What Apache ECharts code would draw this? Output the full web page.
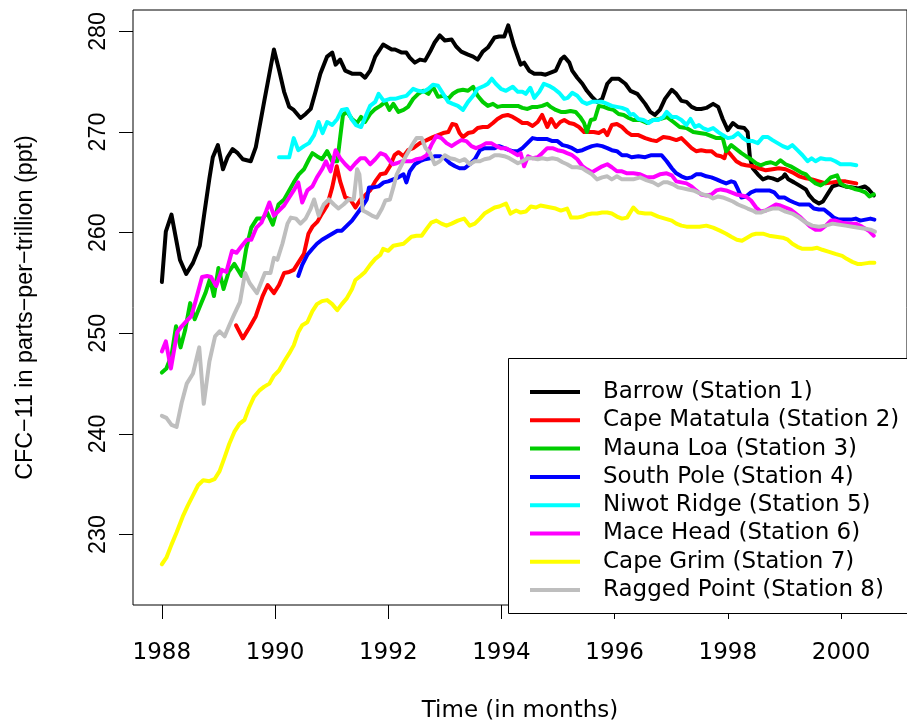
<!DOCTYPE html>
<html>
<head>
<meta charset="utf-8">
<script src="https://cdn.jsdelivr.net/npm/echarts@6/dist/echarts.min.js"></script>
<style>
html,body{margin:0;padding:0;background:#fff;}
#chart{width:907px;height:728px;}
</style>
</head>
<body>
<div id="chart"></div>
<script>
const stationNames = ["Barrow (Station 1)","Cape Matatula (Station 2)","Mauna Loa (Station 3)","South Pole (Station 4)","Niwot Ridge (Station 5)","Mace Head (Station 6)","Cape Grim (Station 7)","Ragged Point (Station 8)"];
const stationColors = ["#000000","#FF0000","#00CD00","#0000FF","#00FFFF","#FF00FF","#FFFF00","#BEBEBE"];
const xTicks = [1988,1990,1992,1994,1996,1998,2000];
const yTicks = [230,240,250,260,270,280];

const barrow = [[1988.00,255.1],[1988.07,260.1],[1988.17,261.8],[1988.32,257.3],[1988.43,255.9],[1988.55,257.0],[1988.67,258.7],[1988.75,261.9],[1988.84,265.4],[1988.90,267.5],[1988.99,268.7],[1989.08,266.3],[1989.16,267.5],[1989.25,268.3],[1989.34,267.9],[1989.43,267.3],[1989.57,267.1],[1989.66,268.5],[1989.81,273.1],[1989.98,278.2],[1990.07,276.2],[1990.16,274.0],[1990.25,272.5],[1990.33,272.2],[1990.45,271.4],[1990.54,271.8],[1990.63,272.3],[1990.72,274.1],[1990.80,275.8],[1990.92,277.5],[1991.01,277.9],[1991.07,276.7],[1991.15,277.2],[1991.24,276.1],[1991.36,275.8],[1991.51,275.8],[1991.59,275.4],[1991.68,276.1],[1991.77,277.5],[1991.91,278.7],[1992.06,278.2],[1992.12,278.2],[1992.24,277.9],[1992.32,277.9],[1992.38,277.4],[1992.47,276.9],[1992.56,277.2],[1992.65,277.1],[1992.74,278.0],[1992.82,278.9],[1992.91,279.6],[1993.00,279.1],[1993.12,279.2],[1993.20,278.5],[1993.29,278.0],[1993.41,277.7],[1993.50,277.5],[1993.58,277.2],[1993.67,278.0],[1993.76,278.4],[1993.88,279.4],[1993.96,279.5],[1994.05,279.5],[1994.12,280.6],[1994.22,278.6],[1994.34,276.7],[1994.40,276.9],[1994.49,276.1],[1994.58,275.8],[1994.70,275.8],[1994.78,275.7],[1994.87,275.9],[1994.96,276.1],[1995.05,277.2],[1995.11,277.5],[1995.20,276.9],[1995.25,276.1],[1995.34,275.4],[1995.43,274.8],[1995.51,274.1],[1995.60,273.5],[1995.69,273.0],[1995.78,273.3],[1995.87,274.8],[1995.95,275.3],[1996.07,275.3],[1996.19,274.8],[1996.28,274.1],[1996.40,273.8],[1996.54,272.8],[1996.63,272.0],[1996.71,271.7],[1996.80,272.2],[1996.89,273.3],[1997.01,274.2],[1997.09,273.8],[1997.18,273.1],[1997.27,273.0],[1997.36,272.5],[1997.44,272.3],[1997.53,272.3],[1997.62,272.4],[1997.74,272.8],[1997.83,272.5],[1997.91,271.3],[1998.00,270.2],[1998.09,270.9],[1998.18,270.5],[1998.29,270.4],[1998.35,270.0],[1998.39,267.5],[1998.44,266.4],[1998.53,265.8],[1998.62,265.3],[1998.71,265.5],[1998.79,265.4],[1998.88,265.2],[1998.97,265.5],[1999.01,265.8],[1999.07,265.3],[1999.17,265.0],[1999.29,264.6],[1999.38,264.3],[1999.44,263.7],[1999.52,263.2],[1999.61,262.9],[1999.68,263.1],[1999.76,263.8],[1999.85,264.6],[1999.96,264.8],[2000.08,264.6],[2000.20,264.5],[2000.31,264.4],[2000.42,264.6],[2000.49,264.3],[2000.58,263.7]];

const capeMatatula = [[1989.31,250.8],[1989.43,249.5],[1989.55,250.6],[1989.66,251.7],[1989.78,253.7],[1989.87,254.8],[1989.98,254.0],[1990.07,254.8],[1990.16,256.0],[1990.25,256.1],[1990.33,256.3],[1990.42,257.1],[1990.51,257.9],[1990.59,259.9],[1990.66,260.6],[1990.75,261.1],[1990.83,261.9],[1990.92,262.7],[1991.01,264.5],[1991.09,266.6],[1991.15,265.1],[1991.24,263.5],[1991.33,263.3],[1991.42,262.5],[1991.51,263.3],[1991.59,263.7],[1991.68,264.2],[1991.77,265.1],[1991.86,265.8],[1991.95,265.9],[1992.03,266.6],[1992.11,267.7],[1992.18,268.0],[1992.27,267.6],[1992.35,268.2],[1992.44,268.4],[1992.56,268.9],[1992.68,269.2],[1992.79,269.5],[1992.88,269.7],[1992.97,269.9],[1993.06,270.0],[1993.13,270.8],[1993.20,270.7],[1993.26,269.9],[1993.32,269.5],[1993.41,269.9],[1993.50,270.0],[1993.58,270.4],[1993.67,270.5],[1993.76,270.5],[1993.85,270.9],[1993.93,271.3],[1994.02,271.6],[1994.11,271.7],[1994.20,271.5],[1994.29,271.2],[1994.37,270.9],[1994.46,270.9],[1994.55,270.6],[1994.64,271.0],[1994.72,271.7],[1994.81,270.5],[1994.88,271.3],[1994.96,270.5],[1995.04,271.0],[1995.11,271.2],[1995.20,270.9],[1995.28,270.8],[1995.37,270.5],[1995.46,270.0],[1995.55,270.0],[1995.63,270.0],[1995.72,269.9],[1995.81,270.2],[1995.87,269.7],[1995.95,270.7],[1996.04,270.8],[1996.13,270.5],[1996.22,270.0],[1996.30,269.7],[1996.42,269.7],[1996.54,269.4],[1996.65,269.2],[1996.74,269.1],[1996.86,269.5],[1996.98,269.4],[1997.09,269.2],[1997.18,269.4],[1997.27,268.9],[1997.36,268.4],[1997.44,268.1],[1997.53,268.2],[1997.62,268.1],[1997.71,268.1],[1997.80,267.7],[1997.88,267.6],[1997.94,267.4],[1997.98,268.2],[1998.06,267.7],[1998.15,267.1],[1998.24,266.8],[1998.32,266.7],[1998.44,266.6],[1998.55,266.4],[1998.67,266.2],[1998.79,266.3],[1998.90,266.4],[1999.02,266.3],[1999.14,266.0],[1999.26,265.6],[1999.38,265.4],[1999.49,265.3],[1999.61,265.1],[1999.73,264.9],[1999.85,265.0],[1999.96,265.1],[2000.08,265.1],[2000.17,265.0],[2000.27,264.9]];

const maunaLoa = [[1988.00,246.1],[1988.08,246.5],[1988.17,247.8],[1988.25,250.7],[1988.33,248.6],[1988.41,250.3],[1988.50,253.0],[1988.58,251.4],[1988.68,252.8],[1988.77,254.0],[1988.85,255.4],[1988.92,253.7],[1989.00,256.5],[1989.09,254.4],[1989.18,256.1],[1989.28,256.9],[1989.41,255.7],[1989.49,258.4],[1989.58,260.5],[1989.68,261.4],[1989.78,261.4],[1989.86,262.0],[1989.96,260.8],[1990.06,262.8],[1990.16,263.3],[1990.25,264.2],[1990.33,265.0],[1990.42,265.8],[1990.51,266.3],[1990.60,267.3],[1990.66,267.9],[1990.74,267.6],[1990.83,267.3],[1990.92,268.1],[1991.01,267.1],[1991.10,267.1],[1991.16,269.9],[1991.20,271.7],[1991.27,272.0],[1991.36,271.3],[1991.45,270.9],[1991.52,271.5],[1991.59,271.0],[1991.68,271.8],[1991.77,272.3],[1991.86,272.6],[1991.95,273.0],[1992.02,272.2],[1992.09,272.8],[1992.18,272.0],[1992.27,272.2],[1992.35,272.5],[1992.44,273.3],[1992.53,273.8],[1992.62,274.1],[1992.71,273.8],[1992.79,274.5],[1992.88,273.5],[1992.97,273.6],[1993.06,273.3],[1993.14,273.8],[1993.23,274.1],[1993.32,274.2],[1993.41,274.1],[1993.50,274.5],[1993.58,273.6],[1993.67,273.0],[1993.76,272.6],[1993.85,272.8],[1993.93,272.5],[1994.02,272.6],[1994.11,272.6],[1994.20,272.6],[1994.29,272.6],[1994.37,272.4],[1994.46,272.3],[1994.55,272.5],[1994.64,272.5],[1994.72,272.6],[1994.81,272.8],[1994.87,272.5],[1994.96,272.2],[1995.05,272.0],[1995.13,272.0],[1995.22,272.1],[1995.31,272.0],[1995.39,271.5],[1995.46,270.9],[1995.51,270.0],[1995.58,271.2],[1995.65,271.3],[1995.72,272.6],[1995.81,272.5],[1995.90,272.3],[1995.98,272.2],[1996.07,271.8],[1996.16,271.7],[1996.25,271.4],[1996.33,271.2],[1996.45,271.2],[1996.57,270.9],[1996.68,271.2],[1996.80,271.3],[1996.92,271.5],[1997.04,271.0],[1997.15,270.5],[1997.27,270.4],[1997.39,270.0],[1997.50,269.9],[1997.62,269.8],[1997.71,269.6],[1997.80,269.4],[1997.91,269.4],[1997.97,268.1],[1998.06,268.7],[1998.15,268.3],[1998.24,267.9],[1998.32,267.6],[1998.41,267.3],[1998.50,266.9],[1998.58,266.7],[1998.67,266.9],[1998.76,267.0],[1998.85,266.8],[1998.93,267.2],[1999.02,266.8],[1999.11,266.6],[1999.20,266.3],[1999.29,266.0],[1999.38,265.8],[1999.46,265.3],[1999.55,264.9],[1999.64,264.7],[1999.73,265.0],[1999.82,265.5],[1999.93,265.7],[1999.99,264.9],[2000.08,264.6],[2000.17,264.5],[2000.26,264.3],[2000.34,264.2],[2000.43,264.0],[2000.50,263.6],[2000.58,263.8]];

const southPole = [[1990.41,255.7],[1990.48,256.8],[1990.57,257.8],[1990.66,258.4],[1990.74,258.9],[1990.83,259.3],[1990.92,259.6],[1991.01,259.9],[1991.10,260.2],[1991.18,260.2],[1991.27,260.7],[1991.36,261.2],[1991.45,261.9],[1991.53,262.5],[1991.62,263.3],[1991.66,264.5],[1991.74,264.5],[1991.83,264.6],[1991.92,265.0],[1992.00,265.1],[1992.09,265.3],[1992.18,265.5],[1992.27,265.8],[1992.32,265.0],[1992.38,266.1],[1992.47,266.8],[1992.56,267.1],[1992.65,267.3],[1992.74,267.4],[1992.82,267.6],[1992.91,267.6],[1993.00,267.4],[1993.09,266.9],[1993.18,266.6],[1993.26,266.4],[1993.35,266.4],[1993.44,266.8],[1993.53,267.3],[1993.62,268.2],[1993.70,268.4],[1993.79,268.4],[1993.88,268.4],[1993.96,268.6],[1994.05,268.4],[1994.14,268.2],[1994.20,268.1],[1994.29,268.1],[1994.37,268.4],[1994.46,268.9],[1994.55,269.4],[1994.64,269.3],[1994.72,269.3],[1994.81,269.3],[1994.90,269.1],[1994.99,269.1],[1995.08,268.7],[1995.16,268.6],[1995.25,268.4],[1995.34,268.1],[1995.43,268.2],[1995.51,268.4],[1995.60,268.6],[1995.69,268.7],[1995.78,268.6],[1995.87,268.4],[1995.95,268.2],[1996.04,268.1],[1996.13,267.7],[1996.22,267.7],[1996.30,267.5],[1996.42,267.6],[1996.54,267.5],[1996.65,267.7],[1996.74,267.7],[1996.83,267.7],[1996.92,267.1],[1997.01,266.4],[1997.09,265.9],[1997.18,265.6],[1997.27,265.4],[1997.36,265.5],[1997.44,265.8],[1997.53,265.8],[1997.62,265.6],[1997.71,265.5],[1997.80,265.3],[1997.88,265.1],[1997.97,264.9],[1998.06,265.1],[1998.12,265.0],[1998.18,264.3],[1998.24,263.5],[1998.32,263.6],[1998.41,264.0],[1998.50,264.2],[1998.62,264.2],[1998.73,264.2],[1998.82,264.0],[1998.90,263.5],[1999.00,263.5],[1999.09,263.2],[1999.17,263.0],[1999.26,262.8],[1999.35,262.8],[1999.44,262.8],[1999.52,262.4],[1999.61,262.3],[1999.70,262.3],[1999.79,261.9],[1999.87,261.5],[1999.96,261.3],[2000.08,261.3],[2000.17,261.3],[2000.26,261.4],[2000.34,261.2],[2000.43,261.3],[2000.52,261.4],[2000.59,261.3]];

const niwotRidge = [[1990.07,267.5],[1990.25,267.5],[1990.33,269.4],[1990.41,268.2],[1990.51,268.6],[1990.60,268.9],[1990.69,269.7],[1990.77,271.0],[1990.84,269.9],[1990.92,271.0],[1991.01,270.7],[1991.10,271.3],[1991.18,272.2],[1991.27,272.3],[1991.35,271.3],[1991.43,270.7],[1991.52,270.5],[1991.61,271.7],[1991.68,272.6],[1991.77,273.0],[1991.83,273.8],[1991.92,273.1],[1992.03,273.3],[1992.12,273.3],[1992.24,273.5],[1992.32,273.6],[1992.44,274.3],[1992.53,274.1],[1992.62,274.0],[1992.71,274.3],[1992.79,274.7],[1992.88,274.6],[1992.97,273.8],[1993.06,273.0],[1993.14,272.8],[1993.23,272.6],[1993.32,272.2],[1993.41,273.0],[1993.50,273.6],[1993.58,274.3],[1993.70,274.6],[1993.76,274.8],[1993.83,275.3],[1993.90,274.8],[1993.99,274.3],[1994.08,274.1],[1994.20,274.5],[1994.29,274.0],[1994.37,274.0],[1994.43,273.8],[1994.51,274.4],[1994.58,273.4],[1994.67,274.0],[1994.75,274.8],[1994.84,274.6],[1994.93,274.3],[1995.02,273.9],[1995.11,273.3],[1995.17,273.4],[1995.25,273.9],[1995.34,273.6],[1995.43,273.0],[1995.51,272.8],[1995.60,273.0],[1995.69,273.0],[1995.78,273.0],[1995.87,272.8],[1995.95,272.6],[1996.04,272.5],[1996.13,272.4],[1996.22,272.2],[1996.28,271.7],[1996.33,271.8],[1996.42,271.3],[1996.51,271.2],[1996.60,270.9],[1996.68,271.2],[1996.77,271.2],[1996.86,271.5],[1996.92,272.0],[1997.01,271.5],[1997.09,271.5],[1997.18,271.2],[1997.27,270.7],[1997.34,271.3],[1997.42,270.5],[1997.49,270.7],[1997.56,270.4],[1997.65,270.2],[1997.74,270.4],[1997.83,270.0],[1997.91,269.7],[1998.00,269.4],[1998.09,269.5],[1998.18,269.9],[1998.27,269.4],[1998.35,269.1],[1998.44,269.1],[1998.53,268.9],[1998.62,269.5],[1998.71,269.5],[1998.79,269.2],[1998.88,268.9],[1998.97,268.6],[1999.06,268.4],[1999.14,268.7],[1999.23,268.2],[1999.32,267.7],[1999.41,267.1],[1999.48,267.4],[1999.55,267.1],[1999.64,267.4],[1999.73,267.3],[1999.82,267.3],[1999.90,267.1],[1999.99,266.8],[2000.08,266.8],[2000.17,266.8],[2000.27,266.7]];

const maceHead = [[1988.00,248.2],[1988.07,249.2],[1988.16,246.5],[1988.27,250.1],[1988.35,250.7],[1988.45,251.3],[1988.52,251.7],[1988.60,253.3],[1988.71,255.6],[1988.80,255.7],[1988.87,255.6],[1988.96,254.7],[1989.06,256.3],[1989.14,256.1],[1989.24,258.2],[1989.32,258.0],[1989.40,258.6],[1989.50,259.3],[1989.58,259.3],[1989.67,260.5],[1989.76,261.0],[1989.84,262.1],[1989.90,263.0],[1989.98,261.7],[1990.07,262.2],[1990.16,262.7],[1990.25,263.5],[1990.33,264.2],[1990.41,265.0],[1990.48,263.0],[1990.57,264.2],[1990.66,264.6],[1990.74,265.5],[1990.83,266.3],[1990.90,267.1],[1990.98,266.1],[1991.07,268.2],[1991.15,267.4],[1991.24,266.8],[1991.33,266.3],[1991.42,266.9],[1991.51,267.4],[1991.59,267.4],[1991.68,266.8],[1991.77,267.3],[1991.86,267.9],[1991.95,267.7],[1992.03,267.1],[1992.08,266.8],[1992.15,266.9],[1992.24,267.1],[1992.32,267.1],[1992.41,267.1],[1992.50,267.3],[1992.59,267.4],[1992.68,267.7],[1992.76,268.7],[1992.85,269.6],[1992.94,269.4],[1993.03,268.9],[1993.12,268.6],[1993.20,268.9],[1993.29,269.2],[1993.38,269.1],[1993.47,268.6],[1993.55,268.4],[1993.64,268.6],[1993.73,268.9],[1993.82,268.9],[1993.91,268.6],[1993.99,268.4],[1994.08,268.4],[1994.20,268.0],[1994.29,267.7],[1994.34,267.9],[1994.40,266.6],[1994.47,267.6],[1994.55,267.4],[1994.64,267.5],[1994.72,267.9],[1994.81,268.4],[1994.90,268.4],[1994.99,268.2],[1995.08,268.1],[1995.16,267.9],[1995.25,267.7],[1995.34,267.3],[1995.43,266.6],[1995.51,266.3],[1995.60,266.0],[1995.69,266.3],[1995.78,266.6],[1995.87,266.8],[1995.95,266.5],[1996.04,266.1],[1996.13,266.1],[1996.22,265.9],[1996.33,265.9],[1996.45,265.8],[1996.57,265.5],[1996.68,265.5],[1996.80,265.8],[1996.92,265.9],[1997.01,265.7],[1997.09,265.1],[1997.18,265.0],[1997.27,264.9],[1997.36,264.6],[1997.44,264.2],[1997.53,263.8],[1997.62,263.7],[1997.71,263.8],[1997.80,264.2],[1997.88,264.3],[1997.97,264.2],[1998.06,264.0],[1998.15,263.8],[1998.24,263.7],[1998.32,263.6],[1998.41,263.2],[1998.50,262.5],[1998.58,262.1],[1998.67,262.2],[1998.76,262.5],[1998.85,262.8],[1998.93,262.7],[1999.02,262.5],[1999.11,262.3],[1999.20,261.9],[1999.29,261.5],[1999.38,261.0],[1999.46,260.6],[1999.55,260.3],[1999.64,260.3],[1999.73,260.7],[1999.82,261.2],[1999.90,261.2],[2000.02,261.0],[2000.14,260.9],[2000.26,260.9],[2000.37,260.6],[2000.49,260.2],[2000.58,259.7]];

const capeGrim = [[1988.00,227.05],[1988.08,227.7],[1988.17,229.0],[1988.26,230.2],[1988.37,231.8],[1988.46,232.9],[1988.55,233.9],[1988.64,234.9],[1988.73,235.4],[1988.84,235.3],[1988.93,235.5],[1989.02,236.3],[1989.11,237.7],[1989.19,239.0],[1989.28,240.2],[1989.37,241.0],[1989.46,241.4],[1989.54,242.6],[1989.63,243.7],[1989.72,244.3],[1989.81,244.7],[1989.90,245.0],[1989.98,245.8],[1990.07,246.3],[1990.16,247.2],[1990.25,248.0],[1990.33,248.8],[1990.41,250.1],[1990.48,250.8],[1990.57,251.1],[1990.66,252.2],[1990.74,252.9],[1990.83,253.2],[1990.92,253.3],[1991.01,252.9],[1991.10,252.3],[1991.18,252.9],[1991.27,253.5],[1991.36,254.4],[1991.42,255.3],[1991.51,255.7],[1991.59,256.1],[1991.68,256.8],[1991.77,257.4],[1991.86,257.8],[1991.91,258.4],[1992.00,258.2],[1992.09,258.7],[1992.18,258.8],[1992.27,258.9],[1992.35,259.3],[1992.41,259.6],[1992.50,259.7],[1992.59,259.7],[1992.68,260.4],[1992.76,261.0],[1992.85,261.2],[1992.94,260.9],[1993.03,260.7],[1993.12,260.9],[1993.23,261.2],[1993.34,261.4],[1993.44,260.7],[1993.53,260.9],[1993.62,261.4],[1993.70,261.9],[1993.79,262.2],[1993.88,262.5],[1993.96,262.6],[1994.08,262.9],[1994.16,261.9],[1994.26,262.2],[1994.34,262.0],[1994.43,262.1],[1994.52,262.6],[1994.61,262.5],[1994.69,262.7],[1994.78,262.6],[1994.87,262.5],[1994.96,262.4],[1995.05,262.2],[1995.16,262.4],[1995.23,261.5],[1995.34,261.5],[1995.43,261.6],[1995.51,261.8],[1995.60,261.9],[1995.69,261.9],[1995.78,262.0],[1995.87,262.0],[1995.95,261.9],[1996.04,261.6],[1996.13,261.4],[1996.22,261.5],[1996.33,262.5],[1996.42,262.0],[1996.54,261.9],[1996.65,261.9],[1996.77,261.6],[1996.89,261.4],[1997.01,261.2],[1997.09,260.9],[1997.18,260.7],[1997.27,260.6],[1997.39,260.6],[1997.50,260.6],[1997.62,260.7],[1997.74,260.5],[1997.86,260.2],[1997.97,259.9],[1998.06,259.6],[1998.16,259.3],[1998.25,259.2],[1998.34,259.5],[1998.43,259.8],[1998.50,259.9],[1998.62,259.9],[1998.73,259.7],[1998.85,259.6],[1998.97,259.5],[1999.06,259.3],[1999.14,258.9],[1999.23,258.6],[1999.32,258.4],[1999.41,258.4],[1999.49,258.4],[1999.58,258.5],[1999.67,258.3],[1999.79,258.1],[1999.90,257.9],[2000.02,257.7],[2000.10,257.4],[2000.20,257.1],[2000.29,256.9],[2000.37,256.9],[2000.49,257.0],[2000.59,257.0]];

const raggedPoint = [[1988.00,241.8],[1988.08,241.6],[1988.17,240.9],[1988.26,240.7],[1988.35,243.1],[1988.44,245.0],[1988.55,246.0],[1988.66,248.6],[1988.74,243.0],[1988.84,247.2],[1988.94,249.7],[1989.02,250.2],[1989.11,249.7],[1989.20,250.9],[1989.28,251.9],[1989.38,253.1],[1989.47,256.0],[1989.55,255.0],[1989.68,254.0],[1989.82,256.0],[1989.92,256.0],[1989.98,257.5],[1990.04,257.3],[1990.13,258.9],[1990.22,260.9],[1990.28,261.5],[1990.37,261.4],[1990.45,260.9],[1990.54,261.4],[1990.63,262.4],[1990.69,263.3],[1990.77,261.7],[1990.86,262.8],[1990.95,263.3],[1991.04,262.8],[1991.12,262.4],[1991.21,262.8],[1991.30,263.3],[1991.39,263.3],[1991.45,266.3],[1991.49,265.8],[1991.55,262.2],[1991.62,262.0],[1991.71,261.7],[1991.80,261.5],[1991.89,262.4],[1991.95,263.2],[1992.03,263.3],[1992.09,264.5],[1992.15,265.8],[1992.24,266.8],[1992.32,267.7],[1992.41,268.6],[1992.50,269.4],[1992.59,269.4],[1992.66,268.4],[1992.74,267.9],[1992.82,266.8],[1992.91,267.1],[1993.00,267.7],[1993.09,267.4],[1993.18,267.3],[1993.26,267.1],[1993.35,267.3],[1993.44,266.8],[1993.53,267.1],[1993.62,267.1],[1993.70,267.3],[1993.79,267.4],[1993.88,267.7],[1993.96,267.7],[1994.05,267.6],[1994.14,267.4],[1994.20,267.2],[1994.29,266.9],[1994.37,267.1],[1994.46,267.4],[1994.55,267.4],[1994.64,267.3],[1994.72,267.4],[1994.81,267.3],[1994.90,267.4],[1994.99,267.3],[1995.08,267.0],[1995.16,266.8],[1995.25,266.5],[1995.34,266.5],[1995.43,266.4],[1995.51,266.1],[1995.60,265.8],[1995.69,265.3],[1995.78,265.5],[1995.87,265.6],[1995.95,265.3],[1996.04,265.6],[1996.13,265.3],[1996.22,265.3],[1996.33,265.3],[1996.45,265.5],[1996.57,265.2],[1996.68,265.0],[1996.77,264.7],[1996.86,265.0],[1996.94,265.0],[1997.03,264.8],[1997.12,264.5],[1997.21,264.4],[1997.30,264.3],[1997.39,264.2],[1997.47,264.0],[1997.56,263.8],[1997.65,263.7],[1997.74,263.4],[1997.83,263.6],[1997.91,263.5],[1998.00,263.3],[1998.09,263.1],[1998.18,262.8],[1998.27,262.6],[1998.35,262.4],[1998.44,262.2],[1998.50,262.0],[1998.58,262.0],[1998.67,262.2],[1998.79,262.4],[1998.90,262.4],[1999.02,262.1],[1999.14,261.9],[1999.26,261.5],[1999.38,261.0],[1999.49,260.7],[1999.61,260.6],[1999.73,260.7],[1999.85,260.9],[1999.96,260.8],[2000.08,260.7],[2000.20,260.6],[2000.31,260.5],[2000.43,260.4],[2000.52,260.3],[2000.60,260.1]];

const stationData = [barrow, capeMatatula, maunaLoa, southPole, niwotRidge, maceHead, capeGrim, raggedPoint];

const FONT = "DejaVu Sans";
const FONT_V = "Liberation Sans";
const chart = echarts.init(document.getElementById('chart'), null, {renderer: 'canvas'});
const option = {
  animation: false,
  backgroundColor: '#ffffff',
  grid: {left: 133, top: 10, width: 779, height: 603, show: true, borderColor: '#000', borderWidth: 1, backgroundColor: 'transparent'},
  xAxis: {
    type: 'value', min: 1987.49, max: 2001.166,
    name: 'Time (in months)', nameLocation: 'middle', nameGap: 95,
    nameTextStyle: {fontFamily: FONT, fontSize: 23, color: '#000'},
    axisLine: {show: false},
    axisTick: {show: true, inside: false, length: 14, lineStyle: {color: '#000', width: 1}, customValues: xTicks},
    axisLabel: {show: true, margin: 37, fontFamily: FONT, fontSize: 23, color: '#000', customValues: xTicks, formatter: v => String(Math.round(v))},
    splitLine: {show: false}
  },
  yAxis: {
    type: 'value', min: 223.0, max: 282.13,
    name: 'CFC\u221211 in parts\u2212per\u2212trillion (ppt)', nameLocation: 'middle', nameGap: 96, nameRotate: 90,
    nameTextStyle: {fontFamily: FONT_V, fontSize: 23.3, color: '#000'},
    axisLine: {show: false},
    axisTick: {show: true, inside: false, length: 14, lineStyle: {color: '#000', width: 1}, customValues: yTicks},
    axisLabel: {show: true, rotate: 90, margin: 23, fontFamily: FONT_V, fontSize: 23.3, color: '#000', customValues: yTicks, formatter: v => String(Math.round(v))},
    splitLine: {show: false}
  },
  legend: {
    show: true, orient: 'vertical', left: 530, top: 378, padding: 0, itemGap: 0.3,
    icon: 'rect', itemWidth: 50, itemHeight: 4,
    textStyle: {fontFamily: FONT, fontSize: 23, color: '#000', lineHeight: 28, padding: [0, 0, 0, 18]},
    data: stationNames, z: 10
  },
  graphic: [{
    type: 'rect', left: 508, top: 358, z: 5,
    shape: {width: 420, height: 255},
    style: {fill: '#fff', stroke: '#000', lineWidth: 1}
  }],
  series: stationData.map((d, i) => ({
    type: 'line', name: stationNames[i], data: d, symbol: 'none', showSymbol: false,
    color: stationColors[i],
    lineStyle: {color: stationColors[i], width: 4, cap: 'round', join: 'round'},
    z: 2
  }))
};
chart.setOption(option);
</script>
</body>
</html>
